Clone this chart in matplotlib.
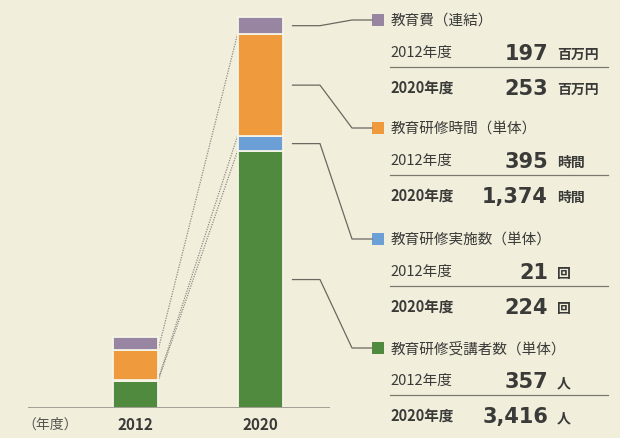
import matplotlib
matplotlib.use("Agg")
import matplotlib.pyplot as plt
from matplotlib.patches import Rectangle

plt.rcParams['font.family'] = ['Noto Sans CJK JP', 'DejaVu Sans']

# data (bottom to top of the stack)
years = ["2012", "2020"]
series = ["教育研修受講者数（単体）", "教育研修実施数（単体）", "教育研修時間（単体）", "教育費（連結）"]
units = ["人", "回", "時間", "百万円"]
values_2012 = [357, 21, 395, 197]
values_2020 = [3416, 224, 1374, 253]

# styles
colors = ["#4f8a3f", "#6b9fd6", "#ee9a3d", "#9885a2"]
px_per_unit = [0.0752, 0.067, 0.0742, 0.067]   # each series drawn at its own scale
bg = "#f1efdc"
dark = "#3a3a38"
W, H = 620, 439

fig = plt.figure(figsize=(W / 100, H / 100), dpi=100, facecolor=bg)

# bar axes: pixel box x 28..330, y 0..409 (top..baseline)
ax = fig.add_axes([28 / W, (H - 409) / H, (330 - 28) / W, 409 / H])
ax.set_facecolor("none")
px_x = 124.5
ax.set_xlim((28 - 135.5) / px_x, (330 - 135.5) / px_x)
ax.set_ylim(0, 409)
ax.axis("off")
bw = 45 / px_x

tops = {}
for xi, vals in enumerate([values_2012, values_2020]):
    bottom = 0
    for si, v in enumerate(vals):
        h = v * px_per_unit[si]
        ax.bar(xi, h, bottom=bottom, width=bw, color=colors[si],
               edgecolor="#f6f4e6", linewidth=1.3, zorder=3)
        tops[(xi, si)] = (bottom, bottom + h)
        bottom += h
ax.axhline(0, color="#8c8a80", lw=1.1, zorder=4)

# dotted guides from 2012 to 2020 (tops of green, blue, orange)
for si in range(3):
    y0 = tops[(0, si)][1]
    y1 = tops[(1, si)][1]
    ax.plot([bw / 2, 1 - bw / 2], [y0, y1], ls=(0, (1, 1)), color="#8e8c84", lw=0.9, zorder=2)

# overlay in pixel coordinates for the callouts
ov = fig.add_axes([0, 0, 1, 1])
ov.set_xlim(0, W)
ov.set_ylim(H, 0)
ov.axis("off")
ov.patch.set_alpha(0)

def to_px(x, y):
    return ov.transData.inverted().transform(ax.transData.transform((x, y)))

legend_y = [349, 240, 129, 21]
for si in range(4):
    ly = legend_y[si]
    b, t = tops[(1, si)]
    sx, sy = to_px(1 + bw / 2, (b + t) / 2)
    ov.plot([sx + 10, 320, 352, 372], [sy, sy, ly, ly], color="#6a6860", lw=0.9)
    ov.add_patch(Rectangle((372, ly - 6), 12, 12, color=colors[si], lw=0))
    ov.text(391, ly, series[si], fontsize=10.5, color=dark, va="center", ha="left")

    for k, (yr, vals) in enumerate([("2012", values_2012), ("2020", values_2020)]):
        ry = ly + (32 if k == 0 else 67)
        ov.text(390, ry, yr + "年度", fontsize=10.5, color=dark, va="center", ha="left",
                fontweight="normal" if k == 0 else "bold")
        ov.text(548, ry + 1, f"{vals[si]:,}", fontsize=15, color=dark, va="center", ha="right",
                family=["DejaVu Sans"], fontweight="bold")
        ov.text(557, ry + 2, units[si], fontsize=10, color=dark, va="center", ha="left",
                fontweight="bold")
    ov.plot([390, 608], [ly + 47, ly + 47], color="#7a786f", lw=0.9)

# x labels
for xi, yr in enumerate(years):
    px, _ = to_px(xi, 0)
    ov.text(px, 425, yr, fontsize=11, color=dark, ha="center", va="center", fontweight="bold")
ov.text(22, 425, "（年度）", fontsize=10, color="#555550", ha="left", va="center")

fig.savefig("out.png", dpi=100, facecolor=bg)
